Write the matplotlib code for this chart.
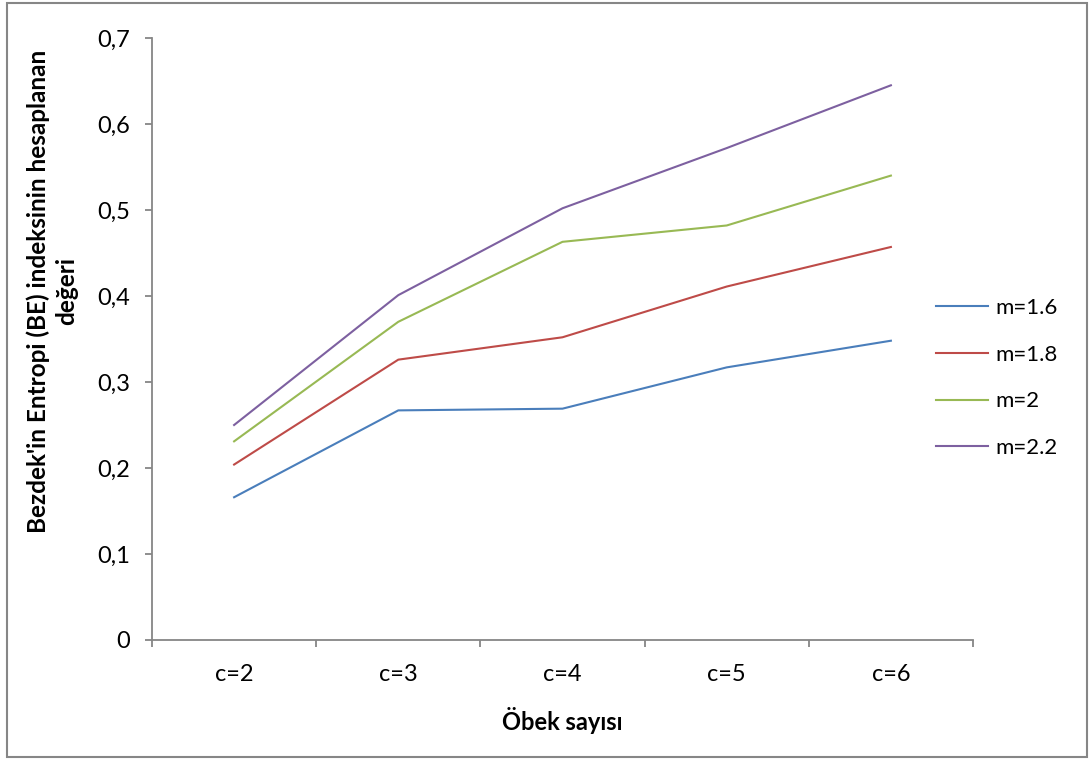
import matplotlib
matplotlib.use("Agg")
import matplotlib.pyplot as plt
from matplotlib.patches import Rectangle
from matplotlib.ticker import FuncFormatter, FixedLocator

categories = ["c=2", "c=3", "c=4", "c=5", "c=6"]
m16 = [0.166, 0.267, 0.269, 0.317, 0.348]
m18 = [0.204, 0.326, 0.352, 0.411, 0.457]
m20 = [0.231, 0.370, 0.463, 0.482, 0.540]
m22 = [0.250, 0.401, 0.502, 0.572, 0.645]
series_labels = ["m=1.6", "m=1.8", "m=2", "m=2.2"]
colors = ["#4A7EBB", "#BE4B48", "#98B954", "#7D60A0"]

plt.rcParams['font.family'] = ['Lato', 'DejaVu Sans']

fig = plt.figure(figsize=(10.91, 7.60), dpi=100)
fig.patches.append(Rectangle((7/1091, 3/760), 1080/1091, 754/760, transform=fig.transFigure,
                             fill=False, edgecolor="#868686", linewidth=1.5))
ax = fig.add_axes([152/1091, 1-640/760, (973-152)/1091, (640-38)/760])

x = list(range(len(categories)))
for vals, lab, col in zip([m16, m18, m20, m22], series_labels, colors):
    ax.plot(x, vals, color=col, linewidth=1.5, label=lab)

ax.set_xlim(-0.5, len(categories) - 0.5)
ax.set_ylim(0, 0.7)
ax.set_yticks([0, 0.1, 0.2, 0.3, 0.4, 0.5, 0.6, 0.7])
ax.yaxis.set_major_formatter(FuncFormatter(lambda v, p: "0" if v == 0 else f"{v:.1f}".replace(".", ",")))
ax.set_xticks(x)
ax.set_xticklabels(categories)
ax.xaxis.set_minor_locator(FixedLocator([i - 0.5 for i in range(len(categories) + 1)]))
ax.tick_params(axis='x', which='major', length=0, pad=17, labelsize=17)
ax.tick_params(axis='x', which='minor', length=5, width=1.3, color="#868686", direction='out')
ax.tick_params(axis='y', which='major', length=5, width=1.3, color="#868686", pad=11, labelsize=17)

for s in ["top", "right"]:
    ax.spines[s].set_visible(False)
for s in ["left", "bottom"]:
    ax.spines[s].set_color("#868686")
    ax.spines[s].set_linewidth(1.3)

ax.set_xlabel("Öbek sayısı", fontsize=17, fontweight='bold', labelpad=16)
fig.text(52/1091, 1-291/760, "Bezdek'in Entropi (BE) indeksinin hesaplanan\ndeğeri",
         rotation=90, ha='center', va='center', fontsize=17.5, fontweight='bold',
         multialignment='center', linespacing=1.25)

ax.legend(loc='center left', frameon=False, fontsize=16,
          handlelength=2.35, labelspacing=1.2, handletextpad=0.3, borderaxespad=0.0,
          borderpad=0.0, bbox_to_anchor=(936/1091, 1-378/760), bbox_transform=fig.transFigure)

fig.savefig("out.png", dpi=100)
